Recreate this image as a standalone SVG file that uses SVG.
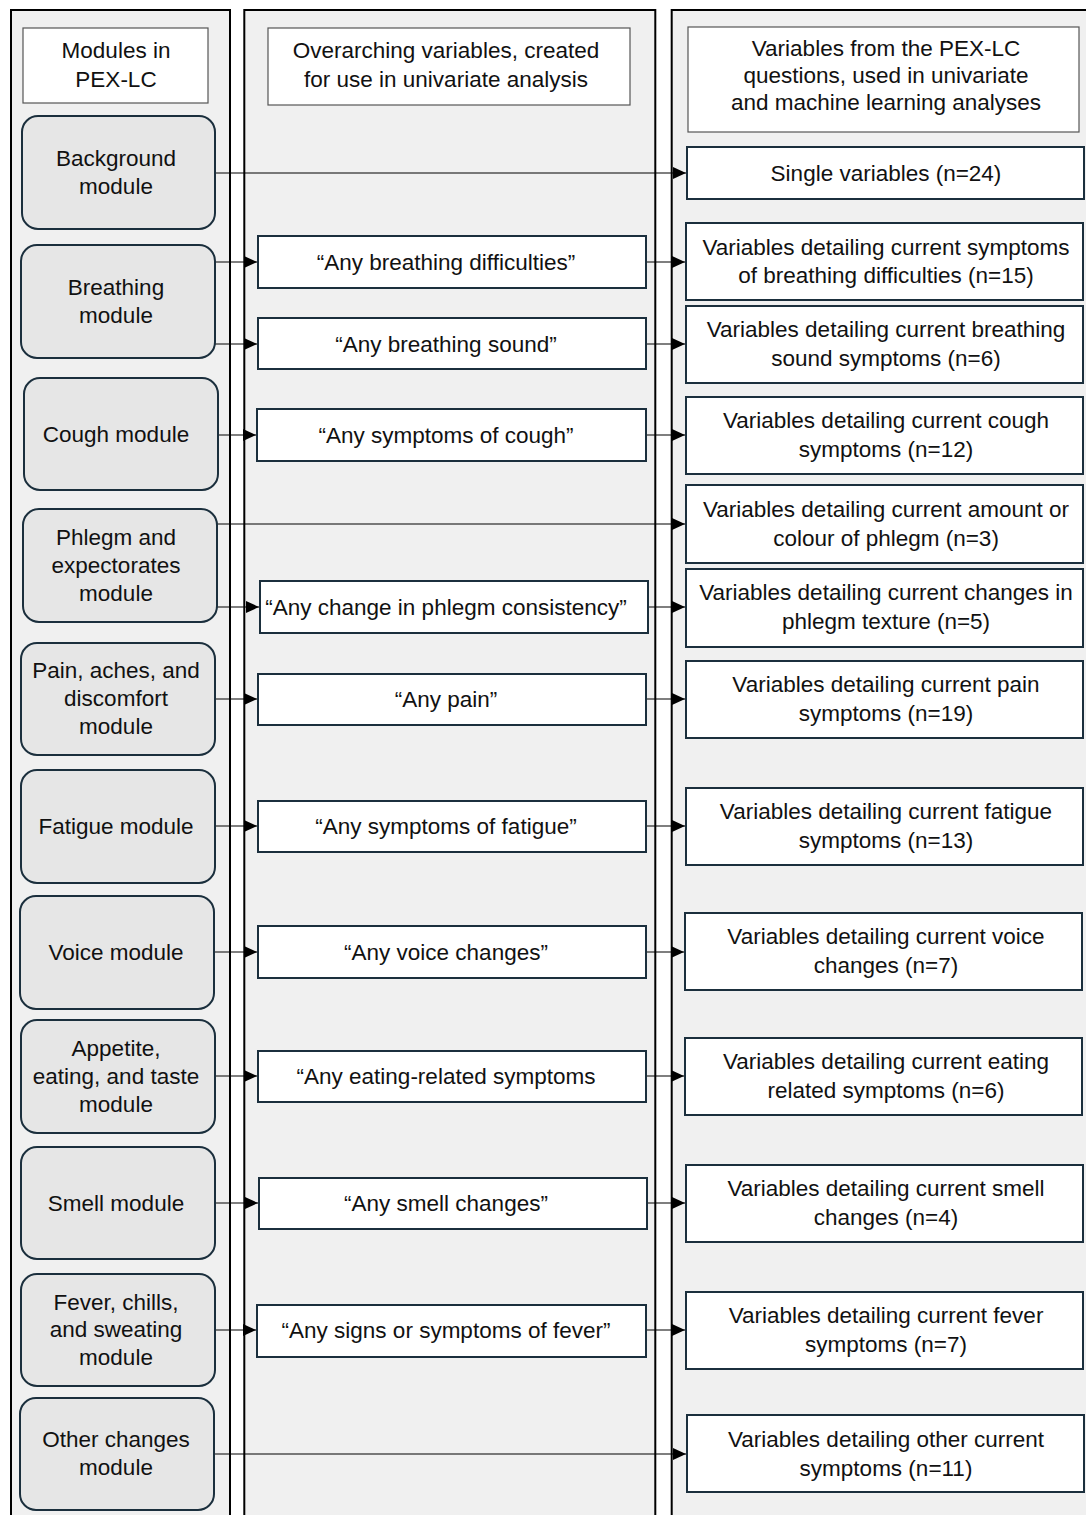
<svg xmlns="http://www.w3.org/2000/svg" width="1086" height="1515" viewBox="0 0 1086 1515">
<defs>
<marker id="arr" viewBox="0 0 13 12" refX="13" refY="6" markerWidth="13" markerHeight="12" markerUnits="userSpaceOnUse" orient="auto"><path d="M0,0 L13,6 L0,12 z" fill="#000"/></marker>
<style>
.panel{fill:#f0f0f0;stroke:#000;stroke-width:2}
.hdr{fill:#fff;stroke:#555;stroke-width:1.2}
.mod{fill:#e6e6e6;stroke:#1b2f3d;stroke-width:2}
.box{fill:#fff;stroke:#1b2f3d;stroke-width:2}
.c{fill:none;stroke:#000;stroke-width:1.2;marker-end:url(#arr)}
text{font-family:"Liberation Sans",Arial,Helvetica,sans-serif;font-size:22.5px;fill:#111;text-anchor:middle}
</style>
</defs>
<rect width="1086" height="1515" fill="#fff"/>
<g id="panels">
<rect class="panel" x="11" y="10" width="219" height="1530"/>
<rect class="panel" x="244.3" y="10" width="411" height="1530"/>
<rect class="panel" x="671.7" y="10" width="440" height="1530"/>
</g>
<g id="headers">
<g id="h1"><rect class="hdr" x="23" y="28" width="185" height="75"/><text x="116" y="58">Modules in</text><text x="116" y="87">PEX-LC</text></g>
<g id="h2"><rect class="hdr" x="268" y="28" width="362" height="77"/><text x="446" y="58">Overarching variables, created</text><text x="446" y="87">for use in univariate analysis</text></g>
<g id="h3"><rect class="hdr" x="688" y="27" width="391" height="105"/><text x="886" y="56">Variables from the PEX-LC</text><text x="886" y="83">questions, used in univariate</text><text x="886" y="110">and machine learning analyses</text></g>
</g>
<g id="connectors">
<line class="c" x1="215" y1="173" x2="686" y2="173"/>
<line class="c" x1="215" y1="262" x2="257" y2="262"/>
<line class="c" x1="646" y1="262" x2="685" y2="262"/>
<line class="c" x1="215" y1="344" x2="257" y2="344"/>
<line class="c" x1="646" y1="344" x2="685" y2="344"/>
<line class="c" x1="218" y1="435" x2="256" y2="435"/>
<line class="c" x1="646" y1="435" x2="685" y2="435"/>
<line class="c" x1="217" y1="524" x2="685" y2="524"/>
<line class="c" x1="217" y1="607" x2="259" y2="607"/>
<line class="c" x1="648" y1="607" x2="685" y2="607"/>
<line class="c" x1="215" y1="699" x2="257" y2="699"/>
<line class="c" x1="646" y1="699" x2="685" y2="699"/>
<line class="c" x1="215" y1="826" x2="257" y2="826"/>
<line class="c" x1="646" y1="826" x2="685" y2="826"/>
<line class="c" x1="214" y1="952" x2="257" y2="952"/>
<line class="c" x1="646" y1="952" x2="684" y2="952"/>
<line class="c" x1="215" y1="1076" x2="257" y2="1076"/>
<line class="c" x1="646" y1="1076" x2="684" y2="1076"/>
<line class="c" x1="215" y1="1203" x2="258" y2="1203"/>
<line class="c" x1="647" y1="1203" x2="685" y2="1203"/>
<line class="c" x1="215" y1="1330" x2="256" y2="1330"/>
<line class="c" x1="646" y1="1330" x2="685" y2="1330"/>
<line class="c" x1="214" y1="1454" x2="686" y2="1454"/>
</g>
<g id="modules">
<g id="m-background"><rect class="mod" x="22" y="116" width="193" height="113" rx="16"/><text x="116" y="166">Background</text><text x="116" y="194">module</text></g>
<g id="m-breathing"><rect class="mod" x="21" y="245" width="194" height="113" rx="16"/><text x="116" y="295">Breathing</text><text x="116" y="323">module</text></g>
<g id="m-cough"><rect class="mod" x="24" y="378" width="194" height="112" rx="16"/><text x="116" y="442">Cough module</text></g>
<g id="m-phlegm"><rect class="mod" x="23" y="509" width="194" height="113" rx="16"/><text x="116" y="545">Phlegm and</text><text x="116" y="573">expectorates</text><text x="116" y="601">module</text></g>
<g id="m-pain"><rect class="mod" x="21" y="643" width="194" height="112" rx="16"/><text x="116" y="678">Pain, aches, and</text><text x="116" y="706">discomfort</text><text x="116" y="734">module</text></g>
<g id="m-fatigue"><rect class="mod" x="21" y="770" width="194" height="113" rx="16"/><text x="116" y="834">Fatigue module</text></g>
<g id="m-voice"><rect class="mod" x="20" y="896" width="194" height="113" rx="16"/><text x="116" y="960">Voice module</text></g>
<g id="m-appetite"><rect class="mod" x="21" y="1020" width="194" height="113" rx="16"/><text x="116" y="1056">Appetite,</text><text x="116" y="1084">eating, and taste</text><text x="116" y="1112">module</text></g>
<g id="m-smell"><rect class="mod" x="21" y="1147" width="194" height="112" rx="16"/><text x="116" y="1211">Smell module</text></g>
<g id="m-fever"><rect class="mod" x="21" y="1274" width="194" height="112" rx="16"/><text x="116" y="1310">Fever, chills,</text><text x="116" y="1337">and sweating</text><text x="116" y="1365">module</text></g>
<g id="m-other"><rect class="mod" x="20" y="1398" width="194" height="112" rx="16"/><text x="116" y="1447">Other changes</text><text x="116" y="1475">module</text></g>
</g>
<g id="overarching">
<g id="o-breathdiff"><rect class="box" x="258" y="236" width="388" height="52"/><text x="446" y="270">“Any breathing difficulties”</text></g>
<g id="o-breathsound"><rect class="box" x="258" y="318" width="388" height="51"/><text x="446" y="352">“Any breathing sound”</text></g>
<g id="o-cough"><rect class="box" x="257" y="409" width="389" height="52"/><text x="446" y="443">“Any symptoms of cough”</text></g>
<g id="o-phlegm"><rect class="box" x="260" y="581" width="388" height="52"/><text x="446" y="615">“Any change in phlegm consistency”</text></g>
<g id="o-pain"><rect class="box" x="258" y="674" width="388" height="51"/><text x="446" y="707">“Any pain”</text></g>
<g id="o-fatigue"><rect class="box" x="258" y="801" width="388" height="51"/><text x="446" y="834">“Any symptoms of fatigue”</text></g>
<g id="o-voice"><rect class="box" x="258" y="926" width="388" height="52"/><text x="446" y="960">“Any voice changes”</text></g>
<g id="o-eating"><rect class="box" x="258" y="1051" width="388" height="51"/><text x="446" y="1084">“Any eating-related symptoms</text></g>
<g id="o-smell"><rect class="box" x="259" y="1178" width="388" height="51"/><text x="446" y="1211">“Any smell changes”</text></g>
<g id="o-fever"><rect class="box" x="257" y="1305" width="389" height="52"/><text x="446" y="1338">“Any signs or symptoms of fever”</text></g>
</g>
<g id="variables">
<g id="v-single"><rect class="box" x="687" y="147" width="397" height="52"/><text x="886" y="181">Single variables (n=24)</text></g>
<g id="v-breathdiff"><rect class="box" x="686" y="223" width="397" height="77"/><text x="886" y="255">Variables detailing current symptoms</text><text x="886" y="283">of breathing difficulties (n=15)</text></g>
<g id="v-breathsound"><rect class="box" x="686" y="306" width="397" height="77"/><text x="886" y="337">Variables detailing current breathing</text><text x="886" y="366">sound symptoms (n=6)</text></g>
<g id="v-cough"><rect class="box" x="686" y="397" width="397" height="77"/><text x="886" y="428">Variables detailing current cough</text><text x="886" y="457">symptoms (n=12)</text></g>
<g id="v-phlegmcol"><rect class="box" x="686" y="485" width="397" height="78"/><text x="886" y="517">Variables detailing current amount or</text><text x="886" y="546">colour of phlegm (n=3)</text></g>
<g id="v-phlegmtex"><rect class="box" x="686" y="569" width="397" height="78"/><text x="886" y="600">Variables detailing current changes in</text><text x="886" y="629">phlegm texture (n=5)</text></g>
<g id="v-pain"><rect class="box" x="686" y="661" width="397" height="77"/><text x="886" y="692">Variables detailing current pain</text><text x="886" y="721">symptoms (n=19)</text></g>
<g id="v-fatigue"><rect class="box" x="686" y="788" width="397" height="77"/><text x="886" y="819">Variables detailing current fatigue</text><text x="886" y="848">symptoms (n=13)</text></g>
<g id="v-voice"><rect class="box" x="685" y="913" width="397" height="77"/><text x="886" y="944">Variables detailing current voice</text><text x="886" y="973">changes (n=7)</text></g>
<g id="v-eating"><rect class="box" x="685" y="1038" width="397" height="77"/><text x="886" y="1069">Variables detailing current eating</text><text x="886" y="1098">related symptoms (n=6)</text></g>
<g id="v-smell"><rect class="box" x="686" y="1165" width="397" height="77"/><text x="886" y="1196">Variables detailing current smell</text><text x="886" y="1225">changes (n=4)</text></g>
<g id="v-fever"><rect class="box" x="686" y="1292" width="397" height="77"/><text x="886" y="1323">Variables detailing current fever</text><text x="886" y="1352">symptoms (n=7)</text></g>
<g id="v-other"><rect class="box" x="687" y="1415" width="397" height="77"/><text x="886" y="1447">Variables detailing other current</text><text x="886" y="1476">symptoms (n=11)</text></g>
</g>
</svg>
